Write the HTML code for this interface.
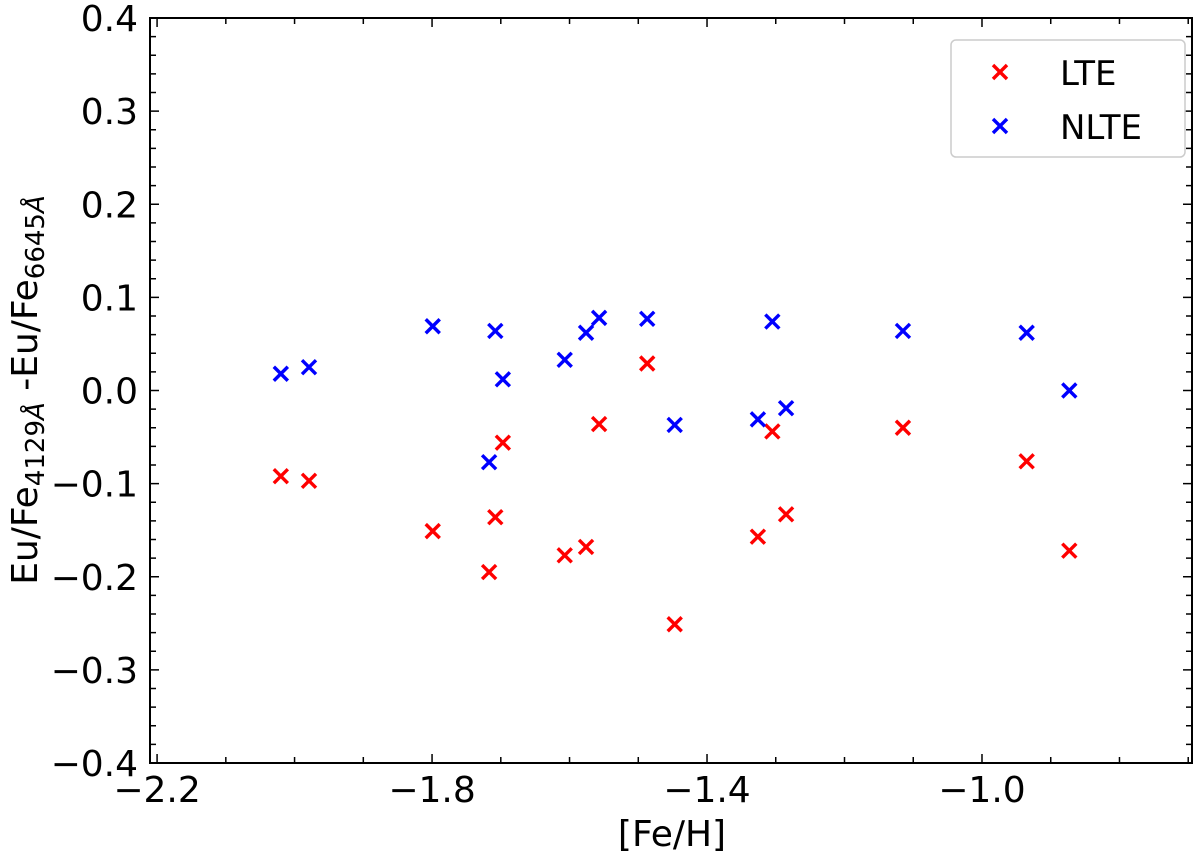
<!DOCTYPE html>
<html><head><meta charset="utf-8"><style>
body{margin:0;background:#fff}
svg{display:block;font-family:"DejaVu Sans","Liberation Sans",sans-serif}
</style></head><body>
<svg id="chart" width="1200" height="857"></svg>
<script>
const feh=[-2.02,-1.979,-1.799,-1.717,-1.708,-1.697,-1.607,-1.576,-1.557,-1.487,-1.447,-1.326,-1.305,-1.285,-1.115,-0.935,-0.873];
const lteValues=[-0.092,-0.097,-0.151,-0.195,-0.136,-0.056,-0.177,-0.168,-0.036,0.029,-0.251,-0.157,-0.044,-0.133,-0.040,-0.076,-0.172];
const nlteValues=[0.018,0.025,0.069,-0.077,0.064,0.012,0.033,0.062,0.078,0.077,-0.037,-0.031,0.074,-0.019,0.064,0.062,0.0];
const xTicks=[-2.2,-1.8,-1.4,-1.0];
const yTicks=[0.4,0.3,0.2,0.1,0.0,-0.1,-0.2,-0.3,-0.4];
const X0=150,X1=1192,Y0=18,Y1=763;
const xmin=-2.2103,xmax=-0.6945,ymin=-0.4,ymax=0.4;
const sx=v=>X0+(v-xmin)/(xmax-xmin)*(X1-X0);
const sy=v=>Y1-(v-ymin)/(ymax-ymin)*(Y1-Y0);
const svg=document.getElementById('chart');
const NS='http://www.w3.org/2000/svg';
function mk(t,a,p){const e=document.createElementNS(NS,t);for(const k in a)e.setAttribute(k,a[k]);(p||svg).appendChild(e);return e;}
const fmt=v=>(v<0?'\u2212':'')+Math.abs(v).toFixed(1);
for(let v=-2.2;v<=-0.69;v+=0.1){const x=sx(v);const major=xTicks.some(t=>Math.abs(t-v)<1e-6);const L=major?9:6;
 const t1=mk('line',{x1:x,x2:x,y1:Y1,y2:Y1-L,stroke:'#000','stroke-width':1.5});
 
 const t2=mk('line',{x1:x,x2:x,y1:Y0,y2:Y0+L,stroke:'#000','stroke-width':1.5});
 }
xTicks.forEach(v=>{const t=mk('text',{x:sx(v),y:802,'font-size':36,'text-anchor':'middle'});t.textContent=fmt(v);
 });
for(let i=0;i<=40;i++){const v=-0.4+i*0.02;const y=sy(v);const major=i%5===0;const L=major?9:6;
 const t1=mk('line',{x1:X0,x2:X0+L,y1:y,y2:y,stroke:'#000','stroke-width':1.5});
 
 const t2=mk('line',{x1:X1,x2:X1-L,y1:y,y2:y,stroke:'#000','stroke-width':1.5});
 }
yTicks.forEach(v=>{const t=mk('text',{x:138,y:sy(v)+13,'font-size':36,'text-anchor':'end'});t.textContent=fmt(v);
 });
const fr=mk('rect',{x:X0,y:Y0,width:X1-X0,height:Y1-Y0,fill:'none',stroke:'#000','stroke-width':2});

function cross(cx,cy,c,name){const g=mk('g',{stroke:c,'stroke-width':3.4});
 
 const s=7;mk('line',{x1:cx-s,y1:cy-s,x2:cx+s,y2:cy+s},g);mk('line',{x1:cx-s,y1:cy+s,x2:cx+s,y2:cy-s},g);}
feh.forEach((f,i)=>cross(sx(f),sy(lteValues[i]),'#ff0000','lte-point'));
feh.forEach((f,i)=>cross(sx(f),sy(nlteValues[i]),'#0000ff','nlte-point'));
const lg=mk('rect',{x:951,y:40,width:234,height:117,rx:5,fill:'#fff',stroke:'#ccc','stroke-width':1.5});

cross(1000,72,'#ff0000','legend-lte-marker');cross(1000,126,'#0000ff','legend-nlte-marker');
let t=mk('text',{x:1060,y:85,'font-size':34});t.textContent='LTE';
t=mk('text',{x:1060,y:139,'font-size':34});t.textContent='NLTE';
t=mk('text',{x:672,y:846,'font-size':36,'text-anchor':'middle'});t.textContent='[Fe/H]';

t=mk('text',{x:0,y:0,'font-size':36,'text-anchor':'middle',transform:'translate(37,390) rotate(-90)'});

t.innerHTML='Eu/Fe<tspan font-size="26" dy="7">4129<tspan font-style="italic">Å</tspan></tspan><tspan dy="-7"> -Eu/Fe</tspan><tspan font-size="26" dy="7">6645<tspan font-style="italic">Å</tspan></tspan>';
</script>
</body></html>
